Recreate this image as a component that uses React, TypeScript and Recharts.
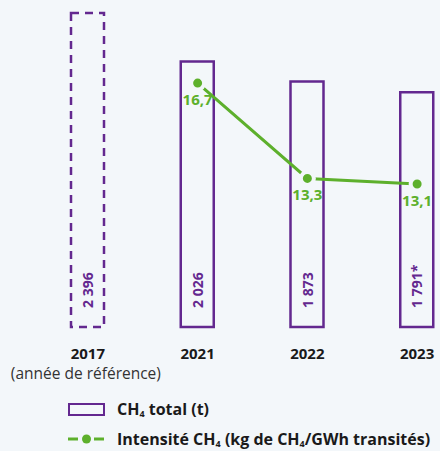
import { ComposedChart, Bar, Line, XAxis, YAxis, Cell, LabelList } from "recharts";

const years = ["2017", "2021", "2022", "2023"];
const totals = [2396, 2026, 1873, 1791];
const totalNotes = ["", "", "", "*"];
const intensity = [null, 16.7, 13.3, 13.1];
const subtitles = ["(année de référence)", "", "", ""];

const PURPLE = "#63288f";
const GREEN = "#5db02c";
const BG = "#f3f7fa";
const FONT = "'Open Sans', sans-serif";

const data = years.map((year, i) => ({
  year,
  total: totals[i],
  intensity: intensity[i],
}));

const fmtTotal = (v: number, i: number) =>
  String(v).replace(/\B(?=(\d{3})+(?!\d))/g, " ") + totalNotes[i];

const YearTick = (props: any) => {
  const { x, y, payload, index } = props;
  return (
    <g>
      <text x={x} y={y + 24} textAnchor="middle" fontFamily={FONT} fontWeight={700} fontSize={15} fill="#1a1a1a">
        {payload.value}
      </text>
      {subtitles[index] && (
        <text x={x - 2} y={y + 44} textAnchor="middle" fontFamily={FONT} fontSize={15.5} fill="#333">
          {subtitles[index]}
        </text>
      )}
    </g>
  );
};

const TotalLabel = (props: any) => {
  const { x, y, width, height, value, index } = props;
  const cx = x + width / 2;
  const cy = y + height - 19;
  return (
    <text
      x={cx}
      y={cy}
      transform={`rotate(-90 ${cx} ${cy})`}
      textAnchor="start"
      dominantBaseline="central"
      fontFamily={FONT}
      fontWeight={700}
      fontSize={14}
      fill={PURPLE}
    >
      {fmtTotal(value, index)}
    </text>
  );
};

const Sub = () => <span style={{ fontSize: 9, verticalAlign: "-2px", lineHeight: 0 }}>4</span>;

const App = () => {
  return (
    <div style={{ position: "absolute", left: 0, top: 0, width: 440, height: 451, overflow: "hidden", background: BG, fontFamily: FONT }}>
      <ComposedChart width={480} height={395} data={data} margin={{ top: 13, right: 8, left: 33, bottom: 18 }}>
        <XAxis dataKey="year" axisLine={false} tickLine={false} height={50} tick={<YearTick />} interval={0} />
        <YAxis yAxisId="t" domain={[0, 2396]} hide />
        <YAxis yAxisId="i" orientation="right" domain={[8, 19.2]} hide />
        <Bar dataKey="total" yAxisId="t" barSize={33} fill={BG} stroke={PURPLE} strokeWidth={2.5} isAnimationActive={false}>
          {data.map((d, i) => (
            <Cell key={d.year} strokeDasharray={i === 0 ? "8 6" : undefined} />
          ))}
          <LabelList dataKey="total" content={<TotalLabel />} />
        </Bar>
        <Line
          dataKey="intensity"
          yAxisId="i"
          stroke={GREEN}
          strokeWidth={3}
          dot={{ r: 6.5, fill: GREEN, stroke: BG, strokeWidth: 4 }}
          connectNulls={false}
          isAnimationActive={false}
        >
          <LabelList
            dataKey="intensity"
            position="bottom"
            offset={11}
            formatter={(v: any) => (v == null ? "" : String(v).replace(".", ","))}
            style={{ fontFamily: FONT, fontWeight: 700, fontSize: 15, fill: GREEN }}
          />
        </Line>
      </ComposedChart>
      <div style={{ position: "absolute", left: 68, top: 398, fontSize: 16, fontWeight: 700, color: "#1a1a1a", lineHeight: "20px" }}>
        <div style={{ display: "flex", alignItems: "center", height: 22 }}>
          <svg width={40} height={16} style={{ marginRight: 9 }}>
            <rect x={1} y={3} width={35} height={11} fill={BG} stroke={PURPLE} strokeWidth={2} />
          </svg>
          <span>
            CH<Sub /> total (t)
          </span>
        </div>
        <div style={{ display: "flex", alignItems: "center", height: 22, marginTop: 8 }}>
          <svg width={40} height={16} style={{ marginRight: 9 }}>
            <line x1={0} y1={8} x2={10} y2={8} stroke={GREEN} strokeWidth={3} />
            <circle cx={18.5} cy={8} r={4.5} fill={GREEN} />
            <line x1={26} y1={8} x2={36} y2={8} stroke={GREEN} strokeWidth={3} />
          </svg>
          <span style={{ whiteSpace: "nowrap" }}>
            Intensité CH<Sub /> (kg de CH<Sub />/GWh transités)
          </span>
        </div>
      </div>
    </div>
  );
};

export default App;
